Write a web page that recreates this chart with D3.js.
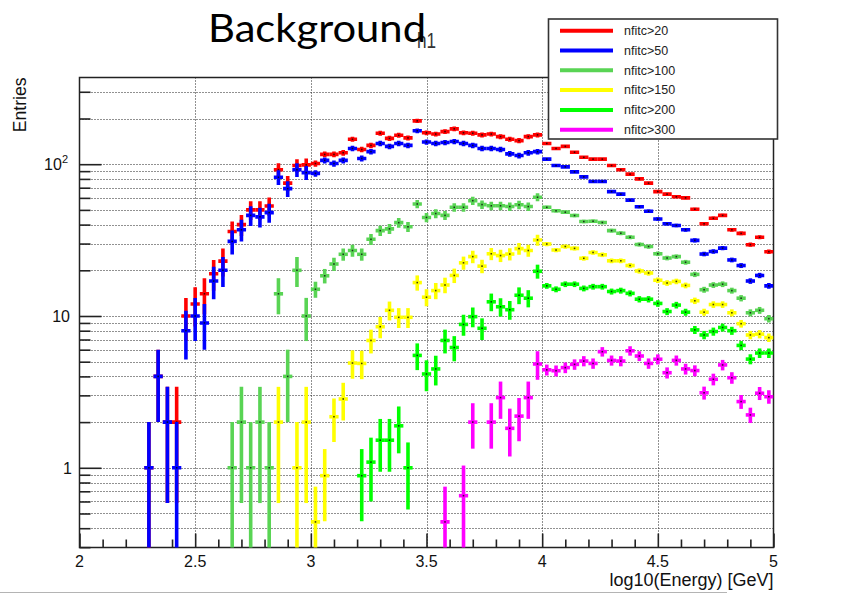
<!DOCTYPE html>
<html><head><meta charset="utf-8">
<script src="https://cdn.jsdelivr.net/npm/d3@7"></script>
<style>body{margin:0;background:#fff}svg{display:block}</style>
</head><body>
<svg id="c" width="849" height="594"></svg>
<script>
// Histogram definition: 75 bins of 0.04 in log10(Energy/GeV), 2 .. 5
const binLow = 2.0, binWidth = 0.04, nBins = 75;
const binCenters = d3.range(nBins).map(i => binLow + binWidth * (i + 0.5));

// Entries per bin (null = empty bin)
const nfitc20 = [null,null,null,null,null,null,null,
  1,4,2,2,10,12,14,19,23,36,
  40,50,50,53,92,75,98,99,101,116,
  116,119,146,125,133,160,148,155,149,193,
  161,158,164,171,161,160,156,158,152,146,
  143,152,156,137,127,131,120,111,108,108,
  98,92,86,80,75,66,63.5,61,60,50.5,
  40.5,44,46,37,35,29.5,33,26.5];
const nfitc50 = [null,null,null,null,null,null,null,
  1,4,2,1,8,10,9,17,20,31,
  37,46,45,48,82,69,92,88,87,106,
  101,106,127,109,121,137,131,137,133,166,
  140,137,139,141,137,133,127,127,125,117,
  114,119,121,108,98,96,89,82.5,77,77,
  66,63.5,58,52.5,49,43.5,40.5,39.5,37,31.5,
  25.6,26.6,28,23.4,21.5,17,18.5,15.8];
const nfitc100 = [null,null,null,null,null,null,null,null,null,null,null,null,null,null,null,null,
  1,2,1,2,1,14,4,20,10,15,
  18.4,22,25.5,27,25.5,32,36.5,37.5,41.2,38.7,
  54.7,44.6,47.3,46,52,52,57.5,54.2,53.2,53.2,
  52.6,54,52.6,60.6,52,49.3,48.3,45.9,41.9,42.1,
  41.3,36.5,35.1,33,29.6,28.7,25.7,24.1,24.6,22.6,
  18.8,14.9,16,16.2,14.7,13.1,10.5,10.9,9.6];
const nfitc150 = [null,null,null,null,null,null,null,null,null,null,null,null,null,null,null,null,null,null,null,null,null,
  2,null,1,2,0.44,0.887,2.17,2.84,4.9,4.87,
  6.9,8.5,10.9,9.8,9.8,16.6,13.3,14.7,16,18.5,
  22.4,24.6,21.3,25.7,25,25.6,27.8,27,31.7,29.8,
  27.2,28.7,27.9,24,26.2,25.3,23.1,23.1,21.5,19.8,
  19.2,17.2,16.5,16.9,15.9,12.6,10.6,11.9,11.9,10.5,
  8.9,7.5,7.6,7.2];
const nfitc200 = [null,null,null,null,null,null,null,null,null,null,null,null,null,null,null,null,null,null,null,null,null,null,null,null,null,null,null,null,null,null,
  0.887,1.09,1.52,1.52,1.89,1.0,5.5,4.15,4.48,6.9,
  6.2,8.8,9.9,8.3,12.4,11.5,11,13.7,13.1,19.7,
  15.8,15,16.2,16.2,15.2,15.6,15.6,14.5,14.7,14.1,
  12.9,12.9,12.1,10.7,11.8,10.6,8.1,7.5,7.9,8.4,
  8,6.4,5.2,5.7,5.7];
const nfitc300 = [null,null,null,null,null,null,null,null,null,null,null,null,null,null,null,null,null,null,null,null,null,null,null,null,null,null,null,null,null,null,null,null,null,null,null,null,null,null,null,
  0.44,null,0.655,2,null,2,2.9,1.82,2.19,2.9,
  4.83,4.42,4.36,4.57,4.8,5.05,4.87,5.82,5.1,5.05,
  5.9,5.45,4.87,5.19,4.23,5.1,4.48,4.37,3.12,3.83,
  4.76,3.92,2.73,2.23,3.1,2.94];

// Per-event weight of each energy sample (error = sqrt(w * content))
const sampleEdges = [2, 3, 4, 5];
const sampleWeights = [1, 0.22, 0.03];

const seriesNames = ["nfitc>20","nfitc>50","nfitc>100","nfitc>150","nfitc>200","nfitc>300"];
const seriesColors = ["#ff0000","#0000ff","#59d454","#ffff00","#00ff00","#ff00ff"];
const seriesValues = [nfitc20, nfitc50, nfitc100, nfitc150, nfitc200, nfitc300];

const xTicksMajor = [2, 2.5, 3, 3.5, 4, 4.5, 5];
const xTickLabels = ["2","2.5","3","3.5","4","4.5","5"];
const yTicksMajor = [1, 10, 100];
const yTicksMinor = [0.3,0.4,0.5,0.6,0.7,0.8,0.9,2,3,4,5,6,7,8,9,20,30,40,50,60,70,80,90,200,300];

const frame = {left: 79.5, right: 773.5, top: 77.5, bottom: 547.5};
const svg = d3.select("#c");
const x = d3.scaleLinear().domain([2, 5]).range([frame.left, frame.right]);
const y = d3.scaleLog().domain([0.2985, 372.5]).range([frame.bottom, frame.top]);

const font = "'Liberation Sans', Arial, Helvetica, sans-serif";

svg.append("defs").append("clipPath").attr("id", "plotclip")
  .append("rect").attr("x", frame.left).attr("y", frame.top)
  .attr("width", frame.right - frame.left).attr("height", frame.bottom - frame.top);

// dotted grid
const grid = svg.append("g").attr("stroke", "#222").attr("stroke-width", 1)
  .attr("stroke-dasharray", "1,2").attr("fill", "none");
yTicksMajor.concat(yTicksMinor).forEach(v => {
  grid.append("line").attr("x1", frame.left).attr("x2", frame.right)
    .attr("y1", Math.round(y(v)) + 0.5).attr("y2", Math.round(y(v)) + 0.5);
});
xTicksMajor.slice(1, -1).forEach(v => {
  grid.append("line").attr("y1", frame.top).attr("y2", frame.bottom)
    .attr("x1", Math.round(x(v)) + 0.5).attr("x2", Math.round(x(v)) + 0.5);
});

// axes (ticks point into the frame)
const yMaj = svg.append("g").attr("transform", `translate(${frame.left},0)`)
  .call(d3.axisLeft(y).tickValues(yTicksMajor).tickSize(-22).tickFormat(""));
const yMin = svg.append("g").attr("transform", `translate(${frame.left},0)`)
  .call(d3.axisLeft(y).tickValues(yTicksMinor).tickSize(-11).tickFormat(""));
const xMinorVals = d3.range(21, 50).map(i => i / 10).filter(v => Math.abs(v * 2 - Math.round(v * 2)) > 1e-6);
const xMaj = svg.append("g").attr("transform", `translate(0,${frame.bottom})`)
  .call(d3.axisBottom(x).tickValues(xTicksMajor).tickSize(-14).tickFormat(""));
const xMin = svg.append("g").attr("transform", `translate(0,${frame.bottom})`)
  .call(d3.axisBottom(x).tickValues(xMinorVals).tickSize(-8).tickFormat(""));
[yMaj, yMin, xMaj, xMin].forEach(g => {
  g.select(".domain").remove();
  g.selectAll(".tick line").attr("stroke", "#222").attr("stroke-width", 1.6);
});

// frame
svg.append("rect").attr("x", frame.left).attr("y", frame.top)
  .attr("width", frame.right - frame.left).attr("height", frame.bottom - frame.top)
  .attr("fill", "none").attr("stroke", "#222").attr("stroke-width", 1.5);

// tick labels
svg.append("g").selectAll("text").data(xTicksMajor).join("text")
  .attr("x", d => x(d)).attr("y", 567).attr("text-anchor", "middle")
  .attr("font-family", font).attr("font-size", 16).attr("fill", "#111")
  .text((d, i) => xTickLabels[i]);
const yl = svg.append("g").attr("font-family", font).attr("font-size", 16).attr("fill", "#111");
yl.append("text").attr("x", 72).attr("y", y(1) + 6).attr("text-anchor", "end").text("1");
yl.append("text").attr("x", 70).attr("y", y(10) + 6).attr("text-anchor", "end").text("10");
const t100 = yl.append("text").attr("x", 68).attr("y", y(100) + 6).attr("text-anchor", "end");
t100.append("tspan").text("10");
t100.append("tspan").attr("font-size", 11).attr("dy", -7).text("2");

// axis titles
svg.append("text").attr("transform", `translate(26,${frame.top}) rotate(-90)`)
  .attr("text-anchor", "end").attr("font-family", font).attr("font-size", 17.6)
  .attr("fill", "#111").text("Entries");
svg.append("text").attr("x", frame.right).attr("y", 586).attr("text-anchor", "end")
  .attr("font-family", font).attr("font-size", 18).attr("fill", "#111")
  .text("log10(Energy) [GeV]");

// histograms with error bars
function weightAt(c) {
  const j = d3.bisectRight(sampleEdges, c) - 1;
  return sampleWeights[Math.max(0, Math.min(sampleWeights.length - 1, j))];
}
const plot = svg.append("g").attr("clip-path", "url(#plotclip)");
seriesValues.forEach((vals, si) => {
  const g = plot.append("g").attr("stroke", seriesColors[si]).attr("stroke-width", 3.6);
  const pts = vals.map((v, i) => ({v, c: binCenters[i]})).filter(d => d.v != null);
  pts.forEach(d => {
    const e = Math.sqrt(weightAt(d.c) * d.v);
    const lo = d.v - e > 0 ? d.v - e : 1e-4;
    g.append("line").attr("x1", x(d.c)).attr("x2", x(d.c))
      .attr("y1", y(lo)).attr("y2", y(d.v + e));
    g.append("line").attr("x1", x(d.c - binWidth / 2)).attr("x2", x(d.c + binWidth / 2))
      .attr("y1", y(d.v)).attr("y2", y(d.v));
  });
  plot.append("g").selectAll("rect").data(pts).join("rect")
    .attr("x", d => x(d.c) - 0.8).attr("y", d => y(d.v) - 0.8)
    .attr("width", 1.6).attr("height", 1.6).attr("fill", "#000").attr("opacity", 0.75);
});

// legend
const lg = svg.append("g");
lg.append("rect").attr("x", 548.5).attr("y", 19).attr("width", 229).attr("height", 120)
  .attr("fill", "#fff").attr("stroke", "#333").attr("stroke-width", 1.6);
seriesNames.forEach((name, i) => {
  const yy = 30.7 + 19.8 * i;
  lg.append("line").attr("x1", 560).attr("x2", 613).attr("y1", yy).attr("y2", yy)
    .attr("stroke", seriesColors[i]).attr("stroke-width", 4);
  lg.append("text").attr("x", 624).attr("y", yy + 4.3).attr("font-family", font)
    .attr("font-size", 12.5).attr("fill", "#222").text(name);
});

// titles: histogram name behind the page heading
svg.append("text").attr("transform", "translate(417,48.3) scale(0.78,1)")
  .attr("font-family", font).attr("font-size", 22).attr("fill", "#333").text("h1");
svg.append("text").attr("x", 208).attr("y", 41.7)
  .attr("font-family", "Lato, 'Open Sans', sans-serif").attr("font-size", 38)
  .attr("textLength", 218).attr("lengthAdjust", "spacingAndGlyphs")
  .attr("fill", "#000").text("Background");

// bottom edge line
svg.append("line").attr("x1", 0).attr("x2", 727).attr("y1", 592.5).attr("y2", 592.5)
  .attr("stroke", "#b4b4b4").attr("stroke-width", 1);
</script>
</body></html>
